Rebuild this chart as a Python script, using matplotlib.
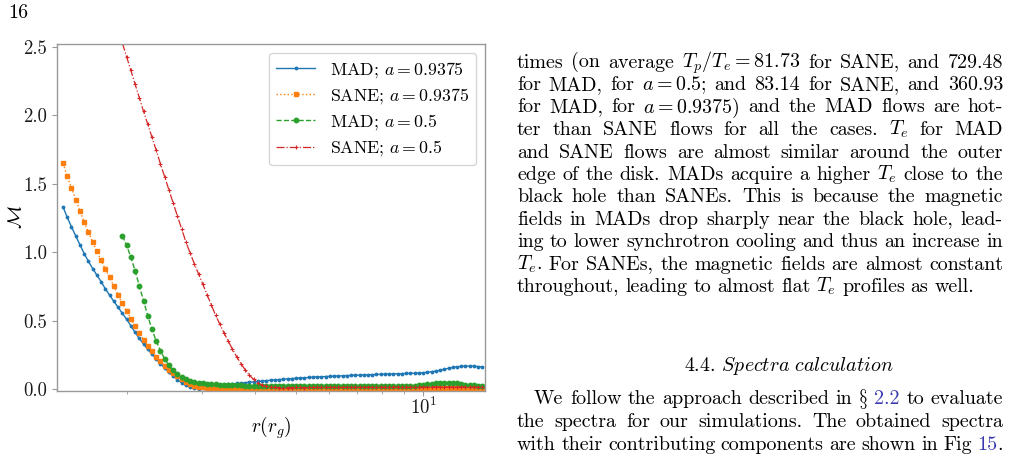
import numpy as np
import matplotlib
matplotlib.use("Agg")
import matplotlib.pyplot as plt
from matplotlib.ticker import FormatStrFormatter

plt.rcParams["font.family"] = "cmr10"
plt.rcParams["mathtext.fontset"] = "cm"
plt.rcParams["axes.formatter.use_mathtext"] = True
plt.rcParams["axes.unicode_minus"] = False

# radius grid (r_g), shared by all profiles
r = [1.413, 1.445, 1.479, 1.514, 1.549, 1.585, 1.622, 1.660, 1.698, 1.738,
     1.778, 1.820, 1.862, 1.905, 1.950, 1.995, 2.042, 2.089, 2.138, 2.188,
     2.239, 2.291, 2.344, 2.399, 2.455, 2.512, 2.570, 2.630, 2.692, 2.754,
     2.818, 2.884, 2.951, 3.020, 3.090, 3.162, 3.236, 3.311, 3.388, 3.467,
     3.548, 3.631, 3.715, 3.802, 3.890, 3.981, 4.074, 4.169, 4.266, 4.365,
     4.467, 4.571, 4.677, 4.786, 4.898, 5.012, 5.129, 5.248, 5.370, 5.495,
     5.623, 5.754, 5.888, 6.026, 6.166, 6.310, 6.457, 6.607, 6.761, 6.918,
     7.079, 7.244, 7.413, 7.586, 7.762, 7.943, 8.128, 8.318, 8.511, 8.710,
     8.913, 9.120, 9.333, 9.550, 9.772, 10.000, 10.233, 10.471, 10.715, 10.965,
     11.220, 11.482, 11.749, 12.023, 12.303, 12.589, 12.882, 13.183, 13.490, 13.804]

# MAD, a = 0.9375
mad_hi = [1.330, 1.255, 1.185, 1.118, 1.053, 0.990, 0.932, 0.880, 0.832, 0.783,
          0.732, 0.685, 0.640, 0.597, 0.553, 0.510, 0.462, 0.414, 0.370, 0.328,
          0.290, 0.254, 0.220, 0.185, 0.152, 0.121, 0.094, 0.068, 0.045, 0.026,
          0.012, 0.004, 0.002, 0.006, 0.012, 0.018, 0.023, 0.027, 0.031, 0.034,
          0.037, 0.040, 0.043, 0.046, 0.049, 0.052, 0.055, 0.058, 0.061, 0.064,
          0.066, 0.069, 0.071, 0.074, 0.076, 0.078, 0.080, 0.082, 0.084, 0.086,
          0.088, 0.089, 0.091, 0.092, 0.094, 0.095, 0.096, 0.098, 0.099, 0.100,
          0.101, 0.103, 0.104, 0.105, 0.106, 0.107, 0.108, 0.109, 0.110, 0.111,
          0.112, 0.113, 0.114, 0.115, 0.117, 0.119, 0.122, 0.126, 0.131, 0.137,
          0.144, 0.151, 0.157, 0.162, 0.165, 0.167, 0.167, 0.166, 0.164, 0.161]

# SANE, a = 0.9375
sane_hi = [1.650, 1.555, 1.470, 1.385, 1.300, 1.220, 1.145, 1.075, 1.005, 0.940,
           0.876, 0.815, 0.750, 0.690, 0.625, 0.570, 0.513, 0.460, 0.410, 0.358,
           0.316, 0.277, 0.236, 0.203, 0.167, 0.140, 0.113, 0.092, 0.073, 0.054,
           0.036, 0.023, 0.014, 0.011, 0.010, 0.009, 0.009, 0.008, 0.008, 0.008,
           0.008, 0.007, 0.008, 0.008, 0.007, 0.008, 0.008, 0.008, 0.007, 0.008,
           0.008, 0.008, 0.008, 0.007, 0.008, 0.008, 0.008, 0.008, 0.008, 0.008,
           0.008, 0.008, 0.009, 0.008, 0.008, 0.008, 0.008, 0.009, 0.008, 0.008,
           0.008, 0.009, 0.008, 0.008, 0.008, 0.009, 0.009, 0.008, 0.008, 0.009,
           0.009, 0.008, 0.009, 0.009, 0.009, 0.009, 0.009, 0.010, 0.010, 0.010,
           0.010, 0.010, 0.009, 0.009, 0.009, 0.008, 0.008, 0.008, 0.008, 0.008]

# MAD, a = 0.5 (starts at r[14])
mad_lo = [1.120, 1.050, 0.965, 0.865, 0.755, 0.645, 0.535, 0.435, 0.350, 0.280,
          0.218, 0.172, 0.136, 0.108, 0.087, 0.070, 0.059, 0.051, 0.046, 0.042,
          0.039, 0.036, 0.034, 0.032, 0.030, 0.029, 0.028, 0.027, 0.026, 0.025,
          0.024, 0.023, 0.022, 0.022, 0.021, 0.021, 0.020, 0.020, 0.020, 0.019,
          0.019, 0.020, 0.019, 0.018, 0.019, 0.020, 0.020, 0.019, 0.019, 0.020,
          0.020, 0.020, 0.019, 0.019, 0.020, 0.020, 0.021, 0.021, 0.020, 0.020,
          0.020, 0.021, 0.021, 0.020, 0.020, 0.021, 0.021, 0.022, 0.023, 0.025,
          0.028, 0.031, 0.035, 0.039, 0.042, 0.045, 0.047, 0.047, 0.045, 0.041,
          0.036, 0.031, 0.028, 0.026, 0.025, 0.025]

# SANE, a = 0.5 (starts at r[14])
sane_lo = [2.530, 2.430, 2.330, 2.230, 2.130, 2.030, 1.935, 1.840, 1.745, 1.645,
           1.550, 1.455, 1.360, 1.265, 1.170, 1.075, 0.995, 0.915, 0.840, 0.765,
           0.690, 0.615, 0.540, 0.475, 0.410, 0.350, 0.290, 0.235, 0.185, 0.140,
           0.100, 0.070, 0.045, 0.028, 0.018, 0.013, 0.011, 0.010, 0.010, 0.010,
           0.010, 0.011, 0.011, 0.010, 0.011, 0.011, 0.011, 0.012, 0.011, 0.011,
           0.012, 0.012, 0.011, 0.012, 0.012, 0.012, 0.012, 0.012, 0.013, 0.012,
           0.012, 0.013, 0.013, 0.012, 0.013, 0.013, 0.013, 0.013, 0.013, 0.014,
           0.014, 0.014, 0.014, 0.014, 0.015, 0.015, 0.015, 0.014, 0.014, 0.014,
           0.014, 0.014, 0.014, 0.013, 0.013, 0.013]

labels = [r"MAD; $a=0.9375$", r"SANE; $a=0.9375$", r"MAD; $a=0.5$", r"SANE; $a=0.5$"]

W, H = 1034, 457
fig = plt.figure(figsize=(W / 100, H / 100), dpi=100)
ax = fig.add_axes([57 / W, 1 - 391 / H, (485 - 57) / W, (391 - 44) / H])

ax.plot(r, mad_hi, "-", marker=".", ms=3.5, lw=1.0, color="#1f77b4", label=labels[0])
ax.plot(r, sane_hi, ":", marker="s", ms=3.0, lw=1.0, color="#ff7f0e", label=labels[1])
ax.plot(r[14:], mad_lo, "--", marker="o", ms=3.2, lw=1.0, color="#2ca02c", label=labels[2])
ax.plot(r[14:], sane_lo, "-.", marker="+", ms=3.0, mew=0.8, lw=0.9, color="#d62728", label=labels[3])

ax.set_xscale("log")
ax.set_xlim(1.367, 14.0)
ax.set_ylim(-0.015, 2.522)
ax.set_yticks([0.0, 0.5, 1.0, 1.5, 2.0, 2.5])
ax.yaxis.set_major_formatter(FormatStrFormatter("%.1f"))
ax.tick_params(labelsize=13.5, colors="0.6", labelcolor="0.1", length=3.5)
ax.tick_params(which="minor", colors="0.6", length=2)
ax.tick_params(axis="x", pad=1)
for s in ax.spines.values():
    s.set_color("0.6")
    s.set_linewidth(1.0)
ax.set_xlabel(r"$r(r_g)$", fontsize=14, labelpad=-3)
ax.set_ylabel(r"$\mathcal{M}$", fontsize=14, labelpad=-2)
ax.legend(loc="upper right", fontsize=12.8, handlelength=2.2, labelspacing=0.35)

# page text beside the figure
FS = 14.4
BLUE = "#3b3bb0"
X0, X1 = 517, 1003
renderer = fig.canvas.get_renderer()


def put_line(words, yb, x0=X0, x1=X1, justify=True):
    # words: list of words; a word is a list of (text, colour) pieces
    groups = []
    for wd in words:
        arts = []
        for txt, col in wd:
            t = fig.text(0, 1 - yb / H, txt, fontsize=FS, color=col, va="baseline", ha="left")
            arts.append((t, t.get_window_extent(renderer).width))
        groups.append(arts)
    widths = [sum(w for _, w in g) for g in groups]
    if justify and len(groups) > 1:
        gap = max((x1 - x0 - sum(widths)) / (len(groups) - 1), 2.5)
    else:
        gap = 0.3 * FS * 100 / 72
    x = x0
    for g, gw in zip(groups, widths):
        for t, w in g:
            t.set_x(x / W)
            x += w
        x += gap


def words_of(s):
    out = []
    for w in s.split(" "):
        if w.startswith("@"):
            body = w[1:]
            tail = ""
            if body.endswith("."):
                body, tail = body[:-1], "."
            pieces = [(body, BLUE)]
            if tail:
                pieces.append((tail, "black"))
            out.append(pieces)
        else:
            out.append([(w, "black")])
    return out


text_lines = [
    "times (on average $T_p/T_e=81.73$ for SANE, and 729.48",
    "for MAD, for $a=0.5$; and 83.14 for SANE, and 360.93",
    "for MAD, for $a=0.9375$) and the MAD flows are hot-",
    "ter than SANE flows for all the cases. $T_e$ for MAD",
    "and SANE flows are almost similar around the outer",
    "edge of the disk. MADs acquire a higher $T_e$ close to the",
    "black hole than SANEs. This is because the magnetic",
    "fields in MADs drop sharply near the black hole, lead-",
    "ing to lower synchrotron cooling and thus an increase in",
    "$T_e$. For SANEs, the magnetic fields are almost constant",
    "throughout, leading to almost flat $T_e$ profiles as well.",
]
baselines = [67.5, 90, 112.5, 135, 157.5, 180, 202.5, 225, 247, 269.5, 292]
for i, (s, yb) in enumerate(zip(text_lines, baselines)):
    put_line(words_of(s), yb, justify=(i < len(text_lines) - 1))

fig.text(684 / W, 1 - 371 / H, r"4.4. $\mathit{Spectra\ calculation}$",
         fontsize=FS, ha="left", va="baseline")

para2 = [
    r"We follow the approach described in $\S$ @2.2 to evaluate",
    "the spectra for our simulations. The obtained spectra",
    "with their contributing components are shown in Fig @15.",
]
put_line(words_of(para2[0]), 404, x0=X0 + 17)
put_line(words_of(para2[1]), 427)
put_line(words_of(para2[2]), 450)

fig.text(8 / W, 1 - 18 / H, "16", fontsize=FS, va="baseline", ha="left")

fig.savefig("out.png", dpi=100)
